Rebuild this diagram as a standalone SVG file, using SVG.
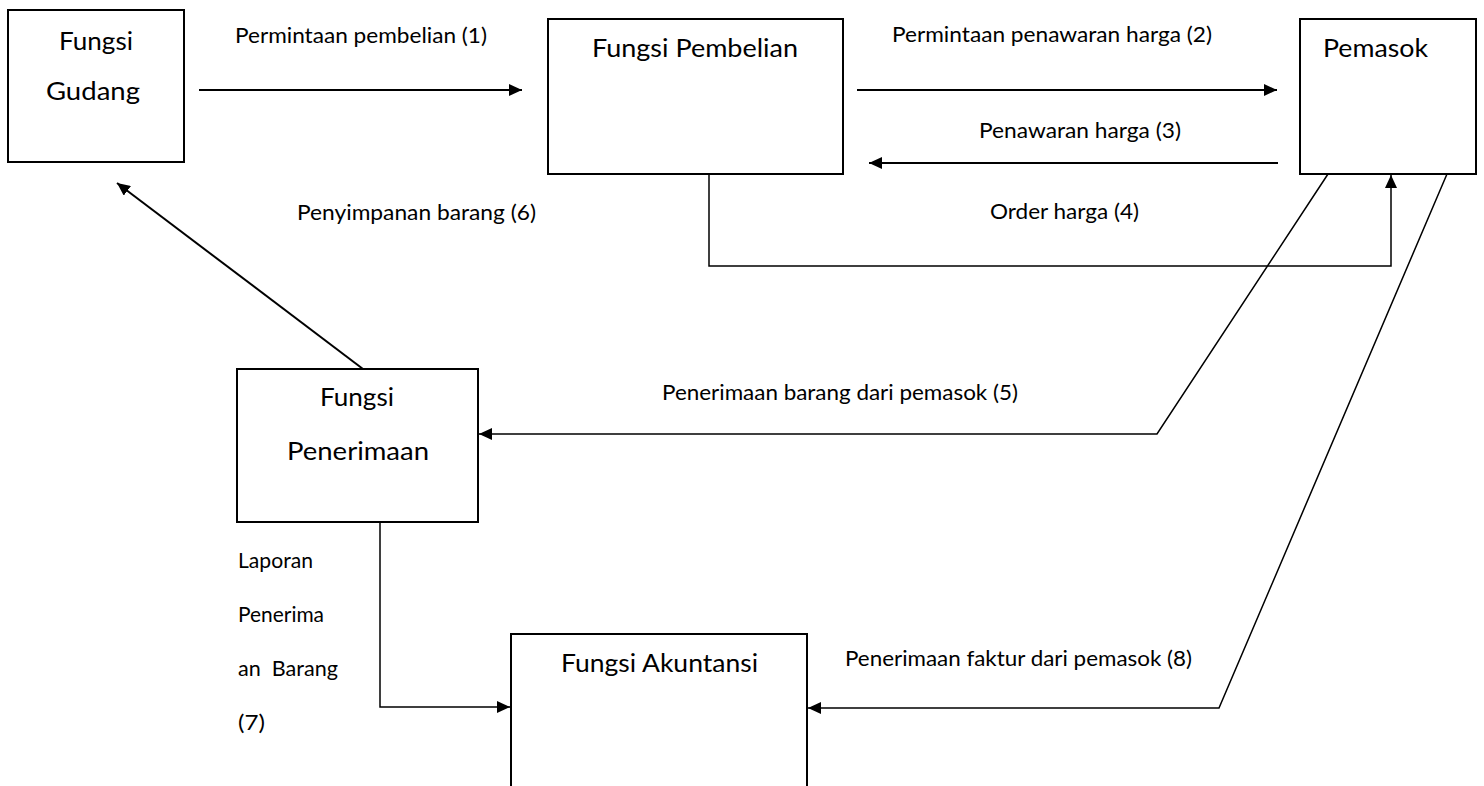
<svg xmlns="http://www.w3.org/2000/svg" width="1484" height="786" viewBox="0 0 1484 786">
<defs>
<marker id="ah" viewBox="0 0 13 12" refX="13" refY="6" markerWidth="13" markerHeight="12" markerUnits="userSpaceOnUse" orient="auto"><path d="M0,0 L13,6 L0,12 z" fill="#000"/></marker>
<style>
.box{fill:#fff;stroke:#000;stroke-width:2}
.nt{font-family:Lato,"Open Sans",sans-serif;font-size:25px;fill:#000}
.lb{font-family:Lato,"Open Sans",sans-serif;font-size:21px;fill:#000}
.c{fill:none;stroke:#000;stroke-width:2}
.t{fill:none;stroke:#000;stroke-width:1.5}
</style>
</defs>
<rect width="1484" height="786" fill="#fff"/>
<g id="gudang"><rect class="box" x="8" y="10" width="176" height="152"/>
<text class="nt" x="59" y="50" textLength="74" lengthAdjust="spacingAndGlyphs">Fungsi</text>
<text class="nt" x="46" y="100" textLength="94" lengthAdjust="spacingAndGlyphs">Gudang</text></g>
<g id="pembelian"><rect class="box" x="548" y="19" width="295" height="155"/>
<text class="nt" x="592" y="57" textLength="206" lengthAdjust="spacingAndGlyphs">Fungsi Pembelian</text></g>
<g id="pemasok"><rect class="box" x="1300" y="19" width="176" height="155"/>
<text class="nt" x="1323" y="57" textLength="105" lengthAdjust="spacingAndGlyphs">Pemasok</text></g>
<g id="penerimaan"><rect class="box" x="237" y="369" width="241" height="153"/>
<text class="nt" x="320" y="406" textLength="74" lengthAdjust="spacingAndGlyphs">Fungsi</text>
<text class="nt" x="287" y="460" textLength="142" lengthAdjust="spacingAndGlyphs">Penerimaan</text></g>
<g id="akuntansi"><rect class="box" x="511" y="634" width="296" height="160"/>
<text class="nt" x="561" y="672" textLength="197" lengthAdjust="spacingAndGlyphs">Fungsi Akuntansi</text></g>
<g id="connectors">
<line class="c" x1="199" y1="90" x2="522" y2="90" marker-end="url(#ah)"/>
<line class="c" x1="857" y1="90" x2="1277" y2="90" marker-end="url(#ah)"/>
<line class="c" x1="1278" y1="163" x2="869" y2="163" marker-end="url(#ah)"/>
<polyline class="t" points="709,174 709,266 1391,266 1391,175" marker-end="url(#ah)"/>
<line class="c" x1="363" y1="369" x2="117" y2="183" marker-end="url(#ah)"/>
<polyline class="t" points="1328,174 1157,434 479,434" marker-end="url(#ah)"/>
<polyline class="t" points="380,522 380,707 510,707" marker-end="url(#ah)"/>
<polyline class="t" points="1447,174 1219,708 808,708" marker-end="url(#ah)"/>
</g>
<g id="labels">
<text class="lb" x="235" y="43" textLength="252" lengthAdjust="spacingAndGlyphs">Permintaan pembelian (1)</text>
<text class="lb" x="892" y="42" textLength="320" lengthAdjust="spacingAndGlyphs">Permintaan penawaran harga (2)</text>
<text class="lb" x="979" y="138" textLength="202" lengthAdjust="spacingAndGlyphs">Penawaran harga (3)</text>
<text class="lb" x="990" y="219" textLength="149" lengthAdjust="spacingAndGlyphs">Order harga (4)</text>
<text class="lb" x="297" y="220" textLength="239" lengthAdjust="spacingAndGlyphs">Penyimpanan barang (6)</text>
<text class="lb" x="662" y="400" textLength="356" lengthAdjust="spacingAndGlyphs">Penerimaan barang dari pemasok (5)</text>
<text class="lb" x="238" y="568" textLength="75" lengthAdjust="spacingAndGlyphs">Laporan</text>
<text class="lb" x="238" y="622" textLength="86" lengthAdjust="spacingAndGlyphs">Penerima</text>
<text class="lb" x="238" y="676" textLength="100" lengthAdjust="spacingAndGlyphs" xml:space="preserve">an  Barang</text>
<text class="lb" x="238" y="730" textLength="27" lengthAdjust="spacingAndGlyphs">(7)</text>
<text class="lb" x="845" y="666" textLength="347" lengthAdjust="spacingAndGlyphs">Penerimaan faktur dari pemasok (8)</text>
</g>
</svg>
